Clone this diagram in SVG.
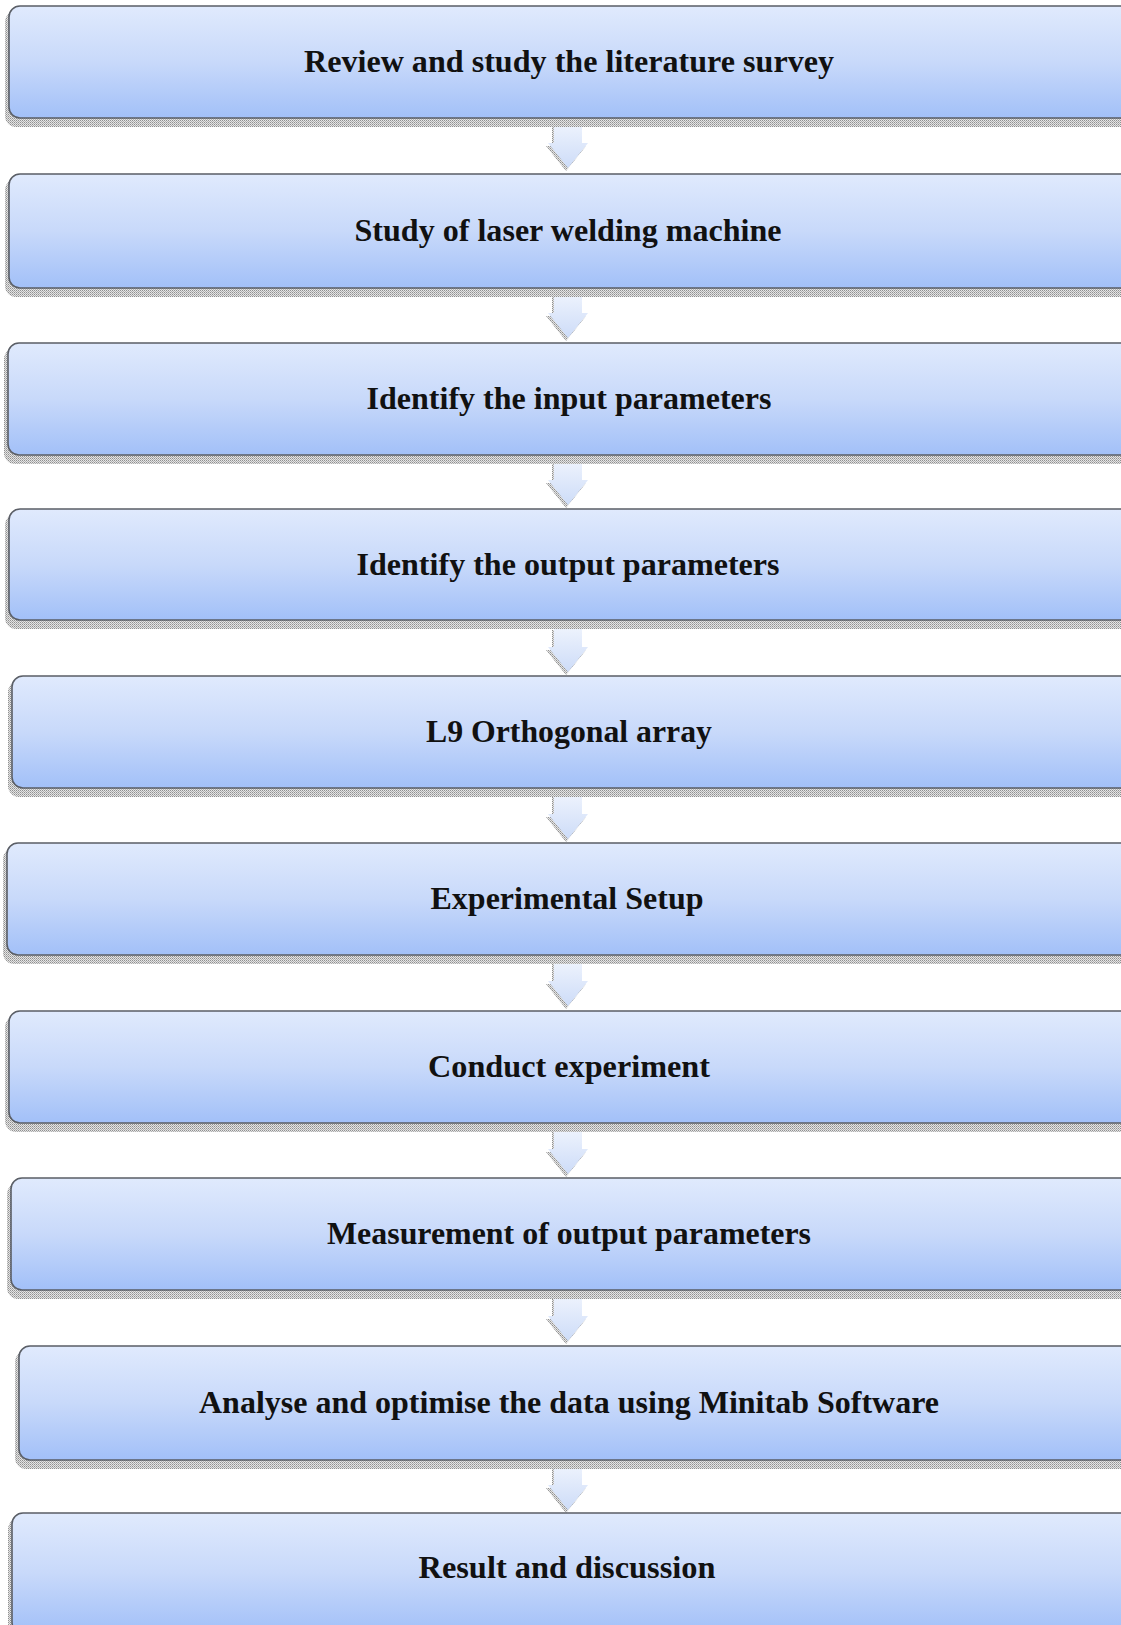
<svg xmlns="http://www.w3.org/2000/svg" width="1121" height="1625" viewBox="0 0 1121 1625">
<defs>
<linearGradient id="boxg" x1="0" y1="0" x2="0" y2="1">
<stop offset="0" stop-color="#e0eafd"/>
<stop offset="0.5" stop-color="#c8d9fa"/>
<stop offset="1" stop-color="#a2c0f8"/>
</linearGradient>
<linearGradient id="arrg" x1="0" y1="0" x2="0" y2="1">
<stop offset="0" stop-color="#eef3fd"/>
<stop offset="1" stop-color="#cddcf8"/>
</linearGradient>
<pattern id="dots" width="2" height="2" patternUnits="userSpaceOnUse">
<rect width="2" height="2" fill="#e4e4e4"/>
<rect width="1" height="1" fill="#909090"/>
<rect x="1" y="1" width="1" height="1" fill="#b0b0b0"/>
</pattern>
<path id="arrow" d="M-14,0 H14 V20 H20 L0,45 L-20,20 H-14 Z"/>
</defs>
<style>
.shadow{fill:url(#dots);}
.box{fill:url(#boxg);stroke:#5a5e66;stroke-width:1.6;}
.lbl{font-family:"Liberation Serif","Times New Roman",serif;font-weight:bold;font-size:32px;fill:#111;text-anchor:middle;}
.arr{fill:url(#arrg);}
.arrsh{fill:url(#dots);}
</style>
<rect width="1121" height="1625" fill="#ffffff"/>
<g id="connectors">
<g transform="translate(568,123)"><use href="#arrow" class="arrsh" transform="translate(-2,3)"/><use href="#arrow" class="arr"/></g>
<g transform="translate(568,293)"><use href="#arrow" class="arrsh" transform="translate(-2,3)"/><use href="#arrow" class="arr"/></g>
<g transform="translate(568,460)"><use href="#arrow" class="arrsh" transform="translate(-2,3)"/><use href="#arrow" class="arr"/></g>
<g transform="translate(568,627)"><use href="#arrow" class="arrsh" transform="translate(-2,3)"/><use href="#arrow" class="arr"/></g>
<g transform="translate(568,794)"><use href="#arrow" class="arrsh" transform="translate(-2,3)"/><use href="#arrow" class="arr"/></g>
<g transform="translate(568,961)"><use href="#arrow" class="arrsh" transform="translate(-2,3)"/><use href="#arrow" class="arr"/></g>
<g transform="translate(568,1129)"><use href="#arrow" class="arrsh" transform="translate(-2,3)"/><use href="#arrow" class="arr"/></g>
<g transform="translate(568,1296)"><use href="#arrow" class="arrsh" transform="translate(-2,3)"/><use href="#arrow" class="arr"/></g>
<g transform="translate(568,1465)"><use href="#arrow" class="arrsh" transform="translate(-2,3)"/><use href="#arrow" class="arr"/></g>
</g>
<g id="n1">
<rect class="shadow" x="5" y="11" width="1130" height="116" rx="11"/>
<rect class="box" x="9" y="6" width="1126" height="112" rx="11"/>
<text class="lbl" x="569" y="72" textLength="530" lengthAdjust="spacingAndGlyphs">Review and study the literature survey</text>
</g>
<g id="n2">
<rect class="shadow" x="5" y="179" width="1130" height="118" rx="11"/>
<rect class="box" x="9" y="174" width="1126" height="114" rx="11"/>
<text class="lbl" x="568" y="241" textLength="427" lengthAdjust="spacingAndGlyphs">Study of laser welding machine</text>
</g>
<g id="n3">
<rect class="shadow" x="4" y="348" width="1131" height="116" rx="11"/>
<rect class="box" x="8" y="343" width="1127" height="112" rx="11"/>
<text class="lbl" x="569" y="409" textLength="405" lengthAdjust="spacingAndGlyphs">Identify the input parameters</text>
</g>
<g id="n4">
<rect class="shadow" x="5" y="514" width="1130" height="115" rx="11"/>
<rect class="box" x="9" y="509" width="1126" height="111" rx="11"/>
<text class="lbl" x="568" y="575" textLength="423" lengthAdjust="spacingAndGlyphs">Identify the output parameters</text>
</g>
<g id="n5">
<rect class="shadow" x="8" y="681" width="1127" height="116" rx="11"/>
<rect class="box" x="12" y="676" width="1123" height="112" rx="11"/>
<text class="lbl" x="569" y="742" textLength="286" lengthAdjust="spacingAndGlyphs">L9 Orthogonal array</text>
</g>
<g id="n6">
<rect class="shadow" x="3" y="848" width="1132" height="116" rx="11"/>
<rect class="box" x="7" y="843" width="1128" height="112" rx="11"/>
<text class="lbl" x="567" y="909" textLength="273" lengthAdjust="spacingAndGlyphs">Experimental Setup</text>
</g>
<g id="n7">
<rect class="shadow" x="5" y="1016" width="1130" height="116" rx="11"/>
<rect class="box" x="9" y="1011" width="1126" height="112" rx="11"/>
<text class="lbl" x="569" y="1077" textLength="282" lengthAdjust="spacingAndGlyphs">Conduct experiment</text>
</g>
<g id="n8">
<rect class="shadow" x="7" y="1183" width="1128" height="116" rx="11"/>
<rect class="box" x="11" y="1178" width="1124" height="112" rx="11"/>
<text class="lbl" x="569" y="1244" textLength="484" lengthAdjust="spacingAndGlyphs">Measurement of output parameters</text>
</g>
<g id="n9">
<rect class="shadow" x="15" y="1351" width="1120" height="118" rx="11"/>
<rect class="box" x="19" y="1346" width="1116" height="114" rx="11"/>
<text class="lbl" x="569" y="1413" textLength="740" lengthAdjust="spacingAndGlyphs">Analyse and optimise the data using Minitab Software</text>
</g>
<g id="n10">
<rect class="shadow" x="8" y="1518" width="1127" height="116" rx="11"/>
<rect class="box" x="12" y="1513" width="1123" height="120" rx="11"/>
<text class="lbl" x="567" y="1578" textLength="297" lengthAdjust="spacingAndGlyphs">Result and discussion</text>
</g>
</svg>
